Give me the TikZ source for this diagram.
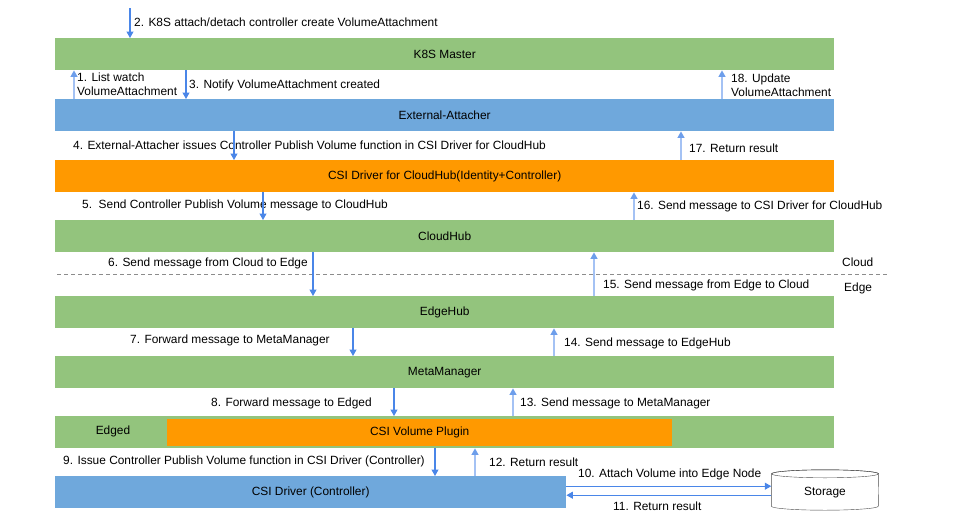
\documentclass[tikz,border=0pt]{standalone}
\usepackage{fontspec}
\setmainfont{Liberation Sans}
\usetikzlibrary{arrows.meta}
\definecolor{barGreen}{HTML}{93C47D}
\definecolor{barBlue}{HTML}{6FA8DC}
\definecolor{barOrange}{HTML}{FF9900}
\definecolor{arrDown}{HTML}{4A86E8}
\definecolor{arrUp}{HTML}{A4C2F4}
\definecolor{tipUp}{HTML}{6D9EEB}
\begin{document}
\begin{tikzpicture}[x=1pt, y=-1pt, font=\fontsize{11.9}{14.5}\selectfont,
	bar/.style={anchor=north west, inner sep=0pt, minimum height=32pt},
	down/.style={draw=arrDown, line width=1.1pt, -{Triangle[width=7pt,length=6.5pt]}},
	up/.style={draw=arrUp, line width=1.1pt, -{Triangle[width=7pt,length=6.5pt,color=tipUp]}},
	lbl/.style={anchor=west, inner sep=0pt, align=left}]
		\useasboundingbox (0,0) rectangle (954,528);
		
		%bars
		\node[bar, fill=barGreen, minimum width=779pt] (master) at (55,38) {K8S Master};
		\node[bar, fill=barBlue, minimum width=779pt] (ext) at (55,99) {External-Attacher};
		\node[bar, fill=barOrange, minimum width=779pt] (csih) at (55,160) {CSI Driver for CloudHub(Identity+Controller)};
		\node[bar, fill=barGreen, minimum width=779pt] (cloud) at (55,220) {CloudHub};
		\node[bar, fill=barGreen, minimum width=779pt] (edgehub) at (55,296) {EdgeHub};
		\node[bar, fill=barGreen, minimum width=779pt] (meta) at (55,356) {MetaManager};
		\node[bar, fill=barGreen, minimum width=779pt] (edged) at (55,416) {};
		\node (edgedtxt) at (113,431) {Edged};
		\node[bar, fill=barOrange, minimum width=505pt, minimum height=27pt] (plugin) at (167,419) {CSI Volume Plugin};
		\node[bar, fill=barBlue, minimum width=511pt] (drv) at (55,476) {CSI Driver (Controller)};
		
		%storage drum
		\node[minimum width=107pt, minimum height=40pt, inner sep=0pt] (sto) at (825,490) {};
		\draw[black!70, fill=white] ([yshift=-4pt]sto.north west) -- ([yshift=4pt]sto.south west)
			arc[start angle=180, end angle=360, x radius=53.5pt, y radius=4pt]
			-- ([yshift=-4pt]sto.north east)
			arc[start angle=0, end angle=180, x radius=53.5pt, y radius=4pt];
		\draw[black!70] ([yshift=-4pt]sto.north) ellipse[x radius=53.5pt, y radius=4pt];
		\node (stotxt) at (825,493) {Storage};
		
		%cloud / edge split
		\coordinate (splitL) at (57,274);
		\coordinate (splitR) at (887,274);
		\draw[black!45, line width=0.9pt, dash pattern=on 4pt off 3pt] (splitL) -- (splitR);
		\node[lbl] (cloudtxt) at (842,262) {Cloud};
		\node[lbl] (edgetxt) at (844,288) {Edge};
		
		%step labels
		\node[lbl] (l2) at (134,22) {2. K8S attach/detach controller create VolumeAttachment};
		\node[lbl] (l1) at (77,84) {1. List watch\\VolumeAttachment};
		\node[lbl] (l3) at (189,85) {3. Notify VolumeAttachment created};
		\node[lbl] (l18) at (731,85) {18. Update\\VolumeAttachment};
		\node[lbl] (l4) at (73,145) {4. External-Attacher issues Controller Publish Volume function in CSI Driver for CloudHub};
		\node[lbl] (l17) at (689,148) {17. Return result};
		\node[lbl] (l5) at (82,205) {5.\ \ Send Controller Publish Volume message to CloudHub};
		\node[lbl] (l16) at (637,206) {16. Send message to CSI Driver for CloudHub};
		\node[lbl] (l6) at (108,263) {6. Send message from Cloud to Edge};
		\node[lbl] (l15) at (603,285) {15. Send message from Edge to Cloud};
		\node[lbl] (l7) at (130,340) {7. Forward message to MetaManager};
		\node[lbl] (l14) at (564,343) {14. Send message to EdgeHub};
		\node[lbl] (l8) at (211,403) {8. Forward message to Edged};
		\node[lbl] (l13) at (520,403) {13. Send message to MetaManager};
		\node[lbl] (l9) at (63,461) {9. Issue Controller Publish Volume function in CSI Driver (Controller)};
		\node[lbl] (l12) at (489,462) {12. Return result};
		\node[lbl] (l10) at (578,474) {10. Attach Volume into Edge Node};
		\node[lbl] (l11) at (613,506) {11. Return result};
		
		%arrows
		\coordinate (top2) at (130,8);
		\draw[down] (top2) -- (top2 |- master.north);
		\draw[up] ([xshift=19pt]ext.north west) -- ([xshift=19pt]master.south west);
		\draw[down] ([xshift=131pt]master.south west) -- ([xshift=131pt]ext.north west);
		\draw[up] ([xshift=667pt]ext.north west) -- ([xshift=667pt]master.south west);
		\draw[down] ([xshift=179pt]ext.south west) -- ([xshift=179pt]csih.north west);
		\draw[up] ([xshift=626pt]csih.north west) -- ([xshift=626pt]ext.south west);
		\draw[down] ([xshift=208pt]csih.south west) -- ([xshift=208pt]cloud.north west);
		\draw[up] ([xshift=579pt]cloud.north west) -- ([xshift=579pt]csih.south west);
		\draw[down] ([xshift=258pt]cloud.south west) -- ([xshift=258pt]edgehub.north west);
		\draw[up] ([xshift=539pt]edgehub.north west) -- ([xshift=539pt]cloud.south west);
		\draw[down] ([xshift=298pt]edgehub.south west) -- ([xshift=298pt]meta.north west);
		\draw[up] ([xshift=499pt]meta.north west) -- ([xshift=499pt]edgehub.south west);
		\draw[down] ([xshift=339pt]meta.south west) -- ([xshift=339pt]edged.north west);
		\draw[up] ([xshift=458pt]edged.north west) -- ([xshift=458pt]meta.south west);
		\draw[down] ([xshift=380pt]edged.south west) -- ([xshift=380pt]drv.north west);
		\draw[up] ([xshift=420pt]drv.north west) -- ([xshift=420pt]edged.south west);
		\draw[down] ([yshift=6pt]drv.east) -- ([yshift=6pt]drv.east -| sto.west);
		\draw[down] ([yshift=-3pt]drv.east -| sto.west) -- ([yshift=-3pt]drv.east);
\end{tikzpicture}
\end{document}
